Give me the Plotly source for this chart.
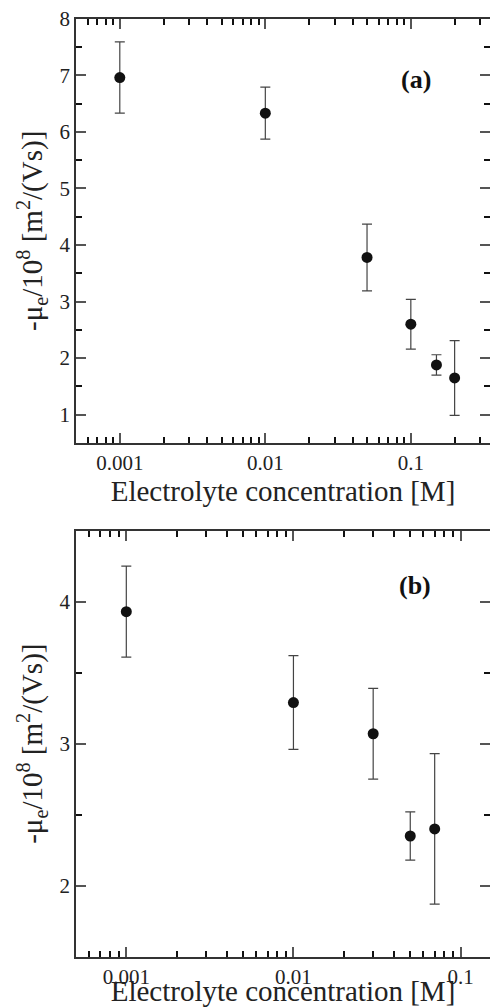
import plotly.graph_objects as go
import math

# Panel (a)
conc_a = [0.001, 0.01, 0.05, 0.1, 0.15, 0.2]
mu_a = [6.96, 6.33, 3.78, 2.60, 1.88, 1.65]
err_a = [0.63, 0.46, 0.59, 0.44, 0.18, 0.66]

# Panel (b)
conc_b = [0.001, 0.01, 0.03, 0.05, 0.07]
mu_b = [3.93, 3.29, 3.07, 2.35, 2.40]
err_b = [0.32, 0.33, 0.32, 0.17, 0.53]

xticks = [0.001, 0.01, 0.1]
xticklabels = ["0.001", "0.01", "0.1"]
xminor = [m * 10 ** d for d in (-4, -3, -2, -1) for m in range(2, 10)]
yticks = [1, 2, 3, 4, 5, 6, 7, 8]
yminor = [k + 0.5 for k in range(0, 8)]

W, H = 490, 1007
FONT = "Liberation Serif, Times New Roman, serif"
TC = "#333333"
MC = "#111111"

fig = go.Figure()

def add_panel(x, y, e, xa, ya):
    fig.add_trace(go.Scatter(
        x=x, y=y, mode="markers", xaxis=xa, yaxis=ya,
        marker=dict(color="#111111", size=11, symbol="circle"),
        error_y=dict(type="data", array=e, visible=True, color="#444444",
                     thickness=1.2, width=5),
        showlegend=False, hoverinfo="skip", cliponaxis=True))

add_panel(conc_a, mu_a, err_a, "x", "y")
add_panel(conc_b, mu_b, err_b, "x2", "y2")

def px_dom(lo, hi, total):
    return [1 - hi / total, 1 - lo / total]

base = dict(ticks="inside", tickwidth=1.5, tickcolor="#555555", showgrid=False,
            zeroline=False, automargin=False, tickmode="array")
minor_x = dict(ticks="inside", ticklen=6, tickwidth=1.5, tickcolor=MC,
               tickmode="array", tickvals=xminor, showgrid=False)
minor_y = dict(ticks="inside", ticklen=6, tickwidth=1.5, tickcolor=MC,
               tickmode="array", tickvals=yminor, showgrid=False)

xr = {"a": [math.log10(0.0005), math.log10(0.35)],
      "b": [math.log10(0.0005), math.log10(0.15)]}
yr = {"a": [0.5, 8], "b": [1.5, 4.5]}
dx = [76 / W, 1.0]
dy = {"a": px_dom(18.7, 443, H), "b": px_dom(530.7, 956.7, H)}

layout = dict(width=W, height=H, margin=dict(l=0, r=0, t=0, b=0),
              paper_bgcolor="white", plot_bgcolor="white")

panels = {"a": (1, 3), "b": (2, 4)}
for p, (i_main, i_top) in panels.items():
    def ax(i):
        return "" if i == 1 else str(i)
    xm, ym = "x" + ax(i_main), "y" + ax(i_main)
    layout["xaxis" + ax(i_main)] = dict(
        base, type="log", range=xr[p], domain=dx, anchor=ym,
        showline=True, linecolor=TC, linewidth=1.8, ticklen=10,
        tickvals=xticks, ticktext=xticklabels, minor=minor_x,
        tickfont=dict(family=FONT, size=21, color="#222222"),
        title=dict(text="Electrolyte concentration [M]",
                   font=dict(family=FONT, size=29, color="#222222"), standoff=0))
    layout["yaxis" + ax(i_main)] = dict(
        base, range=yr[p], domain=dy[p], anchor=xm,
        showline=True, linecolor=TC, linewidth=1.8, ticklen=10,
        tickvals=yticks, minor=minor_y,
        tickfont=dict(family=FONT, size=21, color="#222222"),
        title=dict(text="-μ<sub>e</sub>/10<sup>8</sup> [m<sup>2</sup>/(Vs)]",
                   font=dict(family=FONT, size=29, color="#222222"), standoff=8))
    layout["xaxis" + ax(i_top)] = dict(
        base, type="log", range=xr[p], domain=dx, anchor=ym, overlaying=xm,
        side="top", showline=True, linecolor=TC, linewidth=1.8, ticklen=10,
        tickvals=xticks, minor=minor_x, showticklabels=False)
    layout["yaxis" + ax(i_top)] = dict(
        base, range=yr[p], domain=dy[p], anchor=xm, overlaying=ym,
        side="right", showline=False, ticklen=10, tickvals=yticks,
        minor=minor_y, showticklabels=False)
    fig.add_trace(go.Scatter(x=[0.001], y=[None], xaxis="x" + ax(i_top),
                             yaxis="y" + ax(i_top), showlegend=False,
                             hoverinfo="skip"))

layout["annotations"] = [
    dict(text="<b>(a)</b>", xref="paper", yref="paper",
         x=433 / W, y=1 - 63 / H, showarrow=False,
         font=dict(family=FONT, size=26, color="#111111")),
    dict(text="<b>(b)</b>", xref="paper", yref="paper",
         x=433 / W, y=1 - 585 / H, showarrow=False,
         font=dict(family=FONT, size=26, color="#111111")),
]

fig.update_layout(**layout)
fig.write_html("out.html")
